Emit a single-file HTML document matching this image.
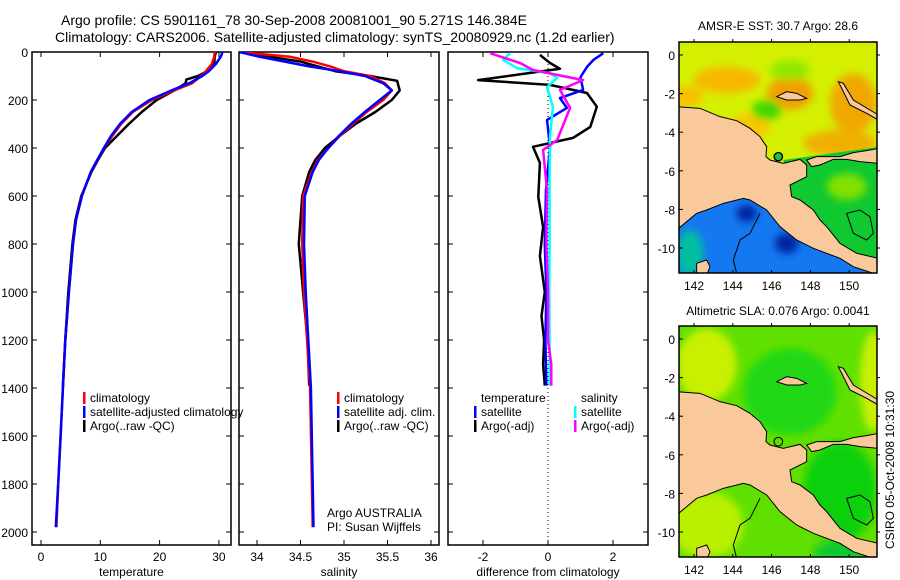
<!DOCTYPE html>
<html><head><meta charset="utf-8">
<style>
html,body{margin:0;padding:0;background:#fff;}
svg{display:block;font-family:"Liberation Sans",sans-serif;}
</style></head>
<body>
<svg id="fig" width="900" height="580" viewBox="0 0 900 580" xmlns="http://www.w3.org/2000/svg">
<defs>
<clipPath id="c1"><rect x="679" y="42" width="198" height="231"/></clipPath>
<clipPath id="c2"><rect x="679" y="326" width="198" height="231"/></clipPath>
<clipPath id="p1"><rect x="32" y="52" width="199" height="493"/></clipPath>
<clipPath id="p2"><rect x="239" y="52" width="200" height="493"/></clipPath>
<clipPath id="p3"><rect x="448" y="52" width="200" height="493"/></clipPath>
<filter id="bl"><feGaussianBlur stdDeviation="12"/></filter>
<g id="land">
<path d="M110,320 L180,325 240,350 290,362 330,385 360,410 380,440 378,470 390,480 430,490 480,478 500,495 500,530 470,545 450,555 455,590 480,600 520,630 540,660 560,680 600,730 650,760 715,775 715,825 640,800 600,775 520,745 470,720 420,680 380,630 330,600 310,595 250,610 200,630 170,640 110,690 Z" fill="#f9c99b" stroke="#000" stroke-width="3"/>
<path d="M500,480 L530,470 600,470 640,458 680,452 715,445 715,490 660,485 620,478 580,478 540,495 515,500 Z" fill="#f9c99b" stroke="#000" stroke-width="3"/>
<path d="M410,290 L440,275 470,280 500,295 480,300 440,300 Z" fill="#f9c99b" stroke="#000" stroke-width="3"/>
<path d="M170,790 L200,780 210,800 200,825 170,825 Z" fill="#f9c99b" stroke="#000" stroke-width="3"/>
<path d="M595,245 L610,250 640,300 690,330 715,345 715,360 680,340 630,315 Z" fill="#f9c99b" stroke="#000" stroke-width="3"/>
<path d="M620,640 L660,630 690,650 700,700 680,720 640,700 Z" fill="none" stroke="#000" stroke-width="3"/>
<path d="M360,640 L330,700 300,720 280,780 290,820" fill="none" stroke="#000" stroke-width="3"/>
<circle cx="415" cy="470" r="13" fill="none" stroke="#000" stroke-width="3"/>
</g>
</defs>

<text x="61" y="25" font-size="14">Argo profile: CS 5901161_78 30-Sep-2008 20081001_90 5.271S 146.384E</text>
<text x="55" y="42" font-size="14">Climatology: CARS2006. Satellite-adjusted climatology: synTS_20080929.nc (1.2d earlier)</text>

<g id="panels"></g>

<!-- Map 1 -->
<g clip-path="url(#c1)">
<g transform="translate(640,0) scale(0.33333)">
<rect x="100" y="100" width="650" height="750" fill="#d4f000"/>
<g filter="url(#bl)">
<ellipse cx="260" cy="240" rx="100" ry="40" fill="#f8b800"/>
<ellipse cx="450" cy="280" rx="70" ry="50" fill="#f0a000"/>
<ellipse cx="640" cy="310" rx="70" ry="90" fill="#f0a800"/>
<ellipse cx="140" cy="290" rx="50" ry="30" fill="#f8c000"/>
<ellipse cx="600" cy="430" rx="110" ry="40" fill="#f0b000"/>
<ellipse cx="330" cy="380" rx="60" ry="40" fill="#f8c800"/>
<ellipse cx="380" cy="330" rx="45" ry="30" fill="#40d800"/>
<ellipse cx="450" cy="210" rx="60" ry="30" fill="#90e800"/>
</g>
<path d="M430,480 L720,440 720,800 560,760 450,600 Z" fill="#10c830"/>
<path d="M100,620 L330,590 420,660 520,730 720,780 720,830 100,830 Z" fill="#1478f0"/>
<g filter="url(#bl)">
<ellipse cx="320" cy="640" rx="30" ry="25" fill="#0020a0"/>
<ellipse cx="440" cy="730" rx="35" ry="30" fill="#0020a0"/>
<ellipse cx="150" cy="760" rx="40" ry="70" fill="#00c0a0"/>
<ellipse cx="620" cy="560" rx="60" ry="40" fill="#80e000"/>
</g>
<use href="#land"/>
<circle cx="415" cy="470" r="12" fill="#20c040" stroke="#000" stroke-width="3"/>
</g>
</g>
<rect x="679" y="42" width="198" height="231" fill="none" stroke="#000" stroke-width="1.5"/>
<text x="778" y="30" font-size="12" text-anchor="middle">AMSR-E SST: 30.7 Argo: 28.6</text>

<!-- Map 2 -->
<g clip-path="url(#c2)">
<g transform="translate(640,285) scale(0.33333)">
<rect x="100" y="100" width="650" height="750" fill="#60e000"/>
<g filter="url(#bl)">
<ellipse cx="200" cy="240" rx="90" ry="110" fill="#c8f000"/>
<ellipse cx="700" cy="290" rx="40" ry="150" fill="#c8f000"/>
<ellipse cx="200" cy="720" rx="110" ry="100" fill="#b8f000"/>
<ellipse cx="450" cy="320" rx="140" ry="130" fill="#20d818"/>
<ellipse cx="600" cy="620" rx="110" ry="150" fill="#10d010"/>
<ellipse cx="600" cy="800" rx="80" ry="30" fill="#10c830"/>
</g>
<use href="#land"/>
</g>
</g>
<rect x="679" y="326" width="198" height="231" fill="none" stroke="#000" stroke-width="1.5"/>
<text x="778" y="315" font-size="12" text-anchor="middle">Altimetric SLA: 0.076 Argo: 0.0041</text>

<text transform="translate(894,470) rotate(-90)" font-size="12" text-anchor="middle">CSIRO 05-Oct-2008 10:31:30</text>

<g id="mapaxes"></g>

<script>
// ---------- data ----------
const depthT = [0,20,50,80,100,130,160,200,250,300,350,400,450,500,600,700,800,1000,1200,1400,1600,1800,1980];
const tempClim = [29.3,29.2,28.8,27.8,27,25.5,22.5,18.7,15.5,13.5,12,10.6,9.5,8.4,6.9,5.9,5.4,4.7,4.1,3.7,3.3,2.9,2.6];
const tempSat  = [30.6,30.3,29.5,28.3,27.2,25,22,18.3,15.3,13.3,11.8,10.6,9.5,8.4,6.9,5.9,5.4,4.7,4.1,3.7,3.3,2.9,2.5];
const depthArgoT = [0,20,50,80,100,115,130,160,200,250,300,350,400,450,500,600,700,800,1000,1200,1390];
const tempArgo = [29.5,29.3,29.2,28,26.5,24.5,24.4,22.5,19.5,17,14.8,12.8,10.8,9.6,8.5,6.8,5.8,5.3,4.6,4.1,3.7];

const depthS = [0,20,40,60,80,100,130,160,200,250,300,350,400,450,500,600,800,1000,1400,1980];
const salClim = [33.8,34.38,34.64,34.84,35.0,35.3,35.47,35.55,35.45,35.26,35.1,34.95,34.82,34.7,34.63,34.53,34.52,34.54,34.61,34.64];
const salSat  = [33.8,34.03,34.32,34.6,34.95,35.24,35.45,35.55,35.41,35.24,35.08,34.94,34.82,34.71,34.64,34.55,34.54,34.56,34.62,34.65];
const depthArgoS = [0,20,40,60,80,100,120,160,200,250,300,350,400,450,500,600,800,1000,1200,1390];
const salArgo = [33.8,34.15,34.5,34.7,34.9,35.3,35.61,35.64,35.55,35.36,35.13,34.95,34.78,34.67,34.6,34.52,34.48,34.53,34.58,34.6];

const depthD1 = [12,46,70,117,137,171,228,312,358,395,462,604,729,850,1000,1100,1200,1300,1390];
const diffTArgo = [-0.25,0.06,0.37,-2.15,0.06,1.2,1.5,1.3,0.77,-0.46,-0.25,-0.3,-0.15,-0.25,-0.1,-0.2,-0.12,-0.15,-0.1];
const depthD2 = [5,33,62,104,158,192,233,283,395,575,800,1000,1200,1390];
const diffTSat = [1.7,1.4,1.2,1.0,1.08,0.37,0.58,-0.03,0.06,-0.06,-0.1,-0.05,-0.08,-0.05];
const depthD3 = [5,33,67,88,108,146,229,354,495,800,1000,1200,1390];
const diffSSat = [-1.17,-1.38,-0.95,0.06,0.28,-0.03,0.15,0.06,0.05,0.05,0.04,0.05,0.05];
const depthD4 = [5,46,75,117,158,233,367,408,575,800,1000,1200,1300,1390];
const diffSArgo = [-1.78,-0.86,-0.46,1.08,0.37,0.68,0.28,-0.15,-0.03,-0.05,0.0,0.0,0.1,0.1];

const depthTicks = [0,200,400,600,800,1000,1200,1400,1600,1800,2000];
const tempTicks = [0,10,20,30];
const salTicks = [34,34.5,35,35.5,36];
const diffTicks = [-2,0,2];
const lonTicks = [142,144,146,148,150];
const latTicks = [0,-2,-4,-6,-8,-10];

// ---------- helpers ----------
const NS = 'http://www.w3.org/2000/svg';
const root = document.getElementById('panels');
function mk(tag, attrs, parent){ const e=document.createElementNS(NS,tag); for(const k in attrs) e.setAttribute(k,attrs[k]); (parent||root).appendChild(e); return e; }
const yD = d => 52 + d*0.24;

const panels = [
 {x0:32,x1:231,xs:v=>41+5.93*v,ticks:tempTicks,label:'temperature',clip:'p1',name:'temperature-panel'},
 {x0:239,x1:439,xs:v=>257+87*(v-34),ticks:salTicks,label:'salinity',clip:'p2',name:'salinity-panel'},
 {x0:448,x1:648,xs:v=>548+32.5*v,ticks:diffTicks,label:'difference from climatology',clip:'p3',name:'difference-panel'}
];

panels.forEach((p,i)=>{
  const g = mk('g',{});
  
  
  mk('rect',{x:p.x0,y:52,width:p.x1-p.x0,height:493,fill:'none',stroke:'#000','stroke-width':1.5},g);
  depthTicks.forEach(d=>{
    const y=yD(d);
    mk('line',{x1:p.x0,y1:y,x2:p.x0+5,y2:y,stroke:'#000'},g);
    mk('line',{x1:p.x1,y1:y,x2:p.x1-5,y2:y,stroke:'#000'},g);
    if(i===0){
      const t = mk('text',{x:p.x0-4,y:y+5,'font-size':12,'text-anchor':'end'},g);
      t.textContent = d;
      
      
    }
  });
  p.ticks.forEach(v=>{
    const x=p.xs(v);
    mk('line',{x1:x,y1:545,x2:x,y2:540,stroke:'#000'},g);
    mk('line',{x1:x,y1:52,x2:x,y2:57,stroke:'#000'},g);
    const t = mk('text',{x:x,y:561,'font-size':12,'text-anchor':'middle'},g);
    t.textContent = v;
    
    
  });
  const lab = mk('text',{x:(p.x0+p.x1)/2,y:576,'font-size':12,'text-anchor':'middle'},g);
  lab.textContent = p.label;
  
  
});

function line(pi, depths, vals, color, name){
  const p = panels[pi];
  const pts = depths.map((d,k)=>p.xs(vals[k]).toFixed(1)+','+yD(d).toFixed(1)).join(' ');
  const e = mk('polyline',{points:pts,fill:'none',stroke:color,'stroke-width':2.5,'stroke-linejoin':'round','clip-path':'url(#'+p.clip+')'});
  
  
}
const zl = mk('line',{x1:548,y1:52,x2:548,y2:545,stroke:'#000','stroke-dasharray':'1,3'});



line(0, depthArgoT, tempArgo, '#000', 'temp-argo-line');
line(0, depthT, tempClim, '#f00', 'temp-climatology-line');
line(0, depthT, tempSat, '#00f', 'temp-satellite-line');
line(1, depthArgoS, salArgo, '#000', 'sal-argo-line');
line(1, depthS, salClim, '#f00', 'sal-climatology-line');
line(1, depthS, salSat, '#00f', 'sal-satellite-line');
line(2, depthD1, diffTArgo, '#000', 'diff-temp-argo-line');
line(2, depthD2, diffTSat, '#00f', 'diff-temp-satellite-line');
line(2, depthD3, diffSSat, '#0ff', 'diff-sal-satellite-line');
line(2, depthD4, diffSArgo, '#f0f', 'diff-sal-argo-line');

function legend(x, y, color, text, name){
  if(color){
    const m = mk('rect',{x:x-7,y:y-10,width:2.5,height:12,fill:color});
    
    
  }
  const t = mk('text',{x:x,y:y,'font-size':12});
  t.textContent = text;
  
  
}
legend(90,402,'#f00','climatology','legend-climatology');
legend(90,416,'#00f','satellite-adjusted climatology','legend-satellite-adjusted');
legend(90,430,'#000','Argo(..raw -QC)','legend-argo');
legend(344,402,'#f00','climatology','legend-sal-climatology');
legend(344,416,'#00f','satellite adj. clim.','legend-sal-satellite');
legend(344,430,'#000','Argo(..raw -QC)','legend-sal-argo');
legend(327,517,null,'Argo AUSTRALIA','argo-australia-label');
legend(327,531,null,'PI: Susan Wijffels','pi-label');
legend(481,402,null,'temperature','legend-temperature-heading');
legend(481,416,'#00f','satellite','legend-temp-satellite');
legend(481,430,'#000','Argo(-adj)','legend-temp-argo');
legend(581,402,null,'salinity','legend-salinity-heading');
legend(581,416,'#0ff','satellite','legend-sal-satellite-diff');
legend(581,430,'#f0f','Argo(-adj)','legend-sal-argo-diff');

// map axes
const ma = document.getElementById('mapaxes');
const lonX = lon => 694 + (lon-142)*19.4;
[[42,273,55],[326,557,339]].forEach(([top,bot,y0])=>{
  lonTicks.forEach(lon=>{
    const x=lonX(lon);
    mk('line',{x1:x,y1:bot,x2:x,y2:bot-3,stroke:'#000'},ma);
    mk('line',{x1:x,y1:top,x2:x,y2:top-3,stroke:'#000'},ma);
    const t = mk('text',{x:x,y:bot+17,'font-size':12,'text-anchor':'middle'},ma);
    t.textContent = lon;
    
    
  });
  latTicks.forEach(lat=>{
    const y=y0 - lat*19.3;
    mk('line',{x1:679,y1:y,x2:683,y2:y,stroke:'#000'},ma);
    mk('line',{x1:877,y1:y,x2:880,y2:y,stroke:'#000'},ma);
    const t = mk('text',{x:675,y:y+5,'font-size':12,'text-anchor':'end'},ma);
    t.textContent = lat;
    
    
  });
});
</script>
</svg>
</body></html>
